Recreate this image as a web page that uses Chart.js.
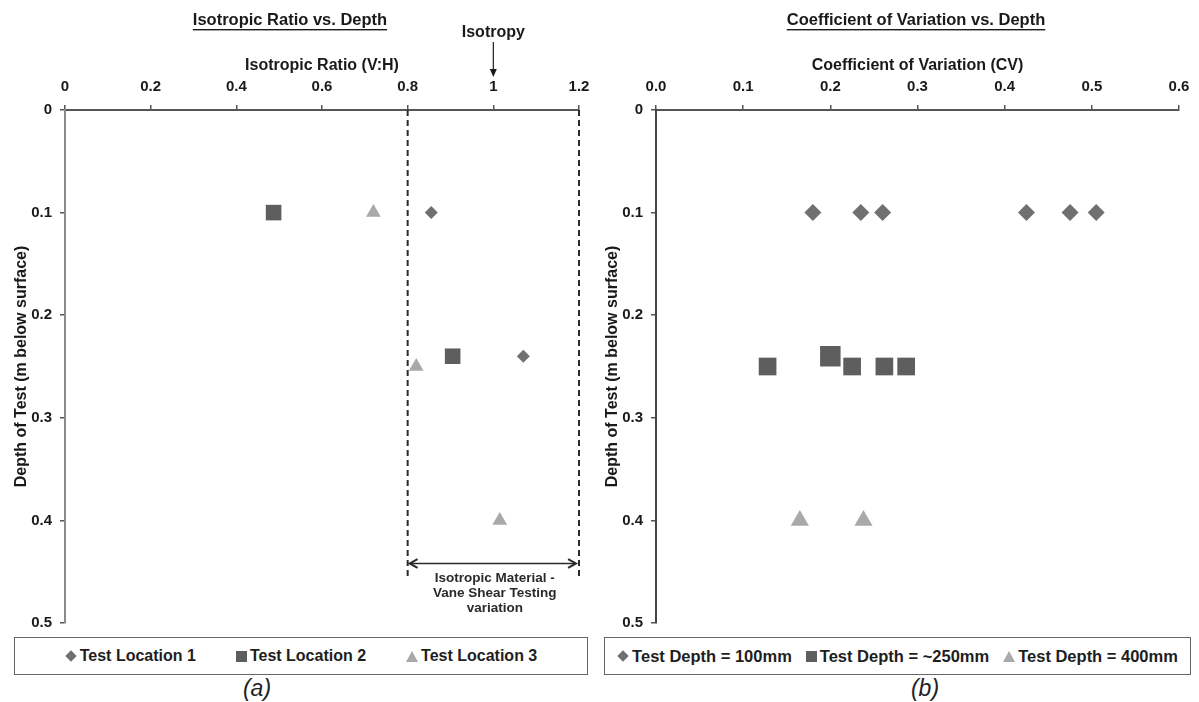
<!DOCTYPE html>
<html>
<head>
<meta charset="utf-8">
<script src="https://cdn.jsdelivr.net/npm/chart.js@4.4.1/dist/chart.umd.min.js"></script>
<style>
  body { margin: 0; background: #fff; width: 1199px; height: 702px; position: relative; overflow: hidden;
         font-family: "Liberation Sans", Arial, sans-serif; }
  .panel { position: absolute; top: 0; width: 600px; height: 640px; }
  .legend { position: absolute; box-sizing: border-box; border: 1.5px solid #666; display: flex; background: #fff;
            justify-content: center; align-items: center; font-weight: bold; color: #1e1e1e; }
  .legend .item { display: flex; align-items: center; white-space: nowrap; }
  .mk { display: inline-block; margin-right: 3px; }
  .cap { position: absolute; font-style: italic; font-size: 23px; color: #222; transform: translateX(-50%); }
</style>
</head>
<body>
<div class="panel" style="left:0"><canvas id="isoChart" width="600" height="640"></canvas></div>
<div class="panel" style="left:600px"><canvas id="cvChart" width="600" height="640"></canvas></div>
<div class="legend" id="isoLegend" style="left:14px;top:637px;width:574px;height:38px;font-size:16px"></div>
<div class="legend" id="cvLegend" style="left:604px;top:637px;width:587px;height:38px;font-size:16.5px"></div>
<div class="cap" style="left:257px;top:675px">(a)</div>
<div class="cap" style="left:925px;top:675px">(b)</div>
<script>
// ---- data ----
const depthTicks = [0, 0.1, 0.2, 0.3, 0.4, 0.5];

const isoSeries = ['Test Location 1', 'Test Location 2', 'Test Location 3'];
const loc1Ratio = [0.855, 1.07];
const loc1Depth = [0.1, 0.24];
const loc2Ratio = [0.487, 0.905];
const loc2Depth = [0.1, 0.24];
const loc3Ratio = [0.72, 0.82, 1.015];
const loc3Depth = [0.1, 0.25, 0.4];

const cvSeries = ['Test Depth = 100mm', 'Test Depth = ~250mm', 'Test Depth = 400mm'];
const cv100 = [0.18, 0.235, 0.26, 0.425, 0.475, 0.505];
const depth100 = [0.1, 0.1, 0.1, 0.1, 0.1, 0.1];
const cv250 = [0.128, 0.2, 0.225, 0.262, 0.287];
const depth250 = [0.25, 0.24, 0.25, 0.25, 0.25];
const cv400 = [0.165, 0.238];
const depth400 = [0.4, 0.4];

const FONT = '"Liberation Sans", Arial, sans-serif';
const colors = ['#707070', '#5e5e5e', '#a9a9a9'];
const shapes = ['rectRot', 'rect', 'triangle'];

const pts = (xs, ys) => xs.map((v, i) => ({ x: v, y: ys[i] }));

function scatterSet(label, data, i, radius) {
    return {
        label: label,
        data: data,
        pointStyle: shapes[i],
        pointRadius: radius,
        backgroundColor: colors[i],
        borderColor: colors[i],
        borderWidth: 0,
        showLine: false
    };
}

function axes(xMax, xTitle, xFmt, yWidth, yTitlePad, yBorder) {
    const tickFont = { family: FONT, size: 15, weight: 'bold' };
    const titleFont = { family: FONT, size: 16, weight: 'bold' };
    return {
        x: {
            type: 'linear', position: 'top', min: 0, max: xMax,
            ticks: { stepSize: xMax / 6, font: tickFont, color: '#1a1a1a', padding: 9, callback: xFmt },
            grid: { drawOnChartArea: false, tickLength: 5, color: '#555', lineWidth: 1.5 },
            border: { color: '#555', width: 2 },
            title: { display: true, text: xTitle, color: '#1a1a1a', font: titleFont, padding: { top: 4, bottom: 4 } },
            afterFit(s) { s.height = 58; }
        },
        y: {
            type: 'linear', reverse: true, min: 0, max: 0.5,
            afterBuildTicks(s) { s.ticks = depthTicks.map(v => ({ value: v })); },
            ticks: { font: tickFont, color: '#1a1a1a', padding: 8 },
            grid: { drawOnChartArea: false, tickLength: 5, color: '#555', lineWidth: 1.5 },
            border: { color: yBorder, width: 2 },
            title: { display: true, text: 'Depth of Test (m below surface)', color: '#1a1a1a', font: titleFont, padding: { top: yTitlePad, bottom: 0 } },
            afterFit(s) { s.width = yWidth; }
        }
    };
}

function underlinedTitle(ctx, text, cx, cy) {
    ctx.save();
    ctx.font = 'bold 16.5px ' + FONT;
    ctx.fillStyle = '#1a1a1a';
    ctx.textAlign = 'center';
    ctx.textBaseline = 'middle';
    ctx.fillText(text, cx, cy);
    const w = ctx.measureText(text).width;
    ctx.fillRect(cx - w / 2, cy + 9, w, 1.4);
    ctx.restore();
}

function arrowHead(ctx, x, y, dx, dy, size) {
    // open chevron pointing along (dx, dy)
    const a = Math.atan2(dy, dx);
    ctx.beginPath();
    ctx.moveTo(x - size * Math.cos(a - 0.5), y - size * Math.sin(a - 0.5));
    ctx.lineTo(x, y);
    ctx.lineTo(x - size * Math.cos(a + 0.5), y - size * Math.sin(a + 0.5));
    ctx.stroke();
}

const isoNotes = {
    id: 'isoNotes',
    beforeDatasetsDraw(chart) {
        const { ctx, scales: { x, y } } = chart;
        ctx.save();
        ctx.strokeStyle = '#2a2a2a';
        ctx.lineWidth = 2;
        ctx.setLineDash([6, 4]);
        [0.8, 1.2].forEach(v => {
            ctx.beginPath();
            ctx.moveTo(x.getPixelForValue(v), y.getPixelForValue(0));
            ctx.lineTo(x.getPixelForValue(v), y.getPixelForValue(0.458));
            ctx.stroke();
        });
        ctx.restore();
    },
    afterDraw(chart) {
        const { ctx, scales: { x, y } } = chart;
        underlinedTitle(ctx, 'Isotropic Ratio vs. Depth', 290, 20);

        // isotropy marker
        const xi = x.getPixelForValue(1);
        ctx.save();
        ctx.font = 'bold 16px ' + FONT;
        ctx.fillStyle = '#1a1a1a';
        ctx.textAlign = 'center';
        ctx.textBaseline = 'middle';
        ctx.fillText('Isotropy', xi, 33);
        ctx.strokeStyle = '#1a1a1a';
        ctx.lineWidth = 1.2;
        ctx.beginPath();
        ctx.moveTo(xi, 42);
        ctx.lineTo(xi, 73);
        ctx.stroke();
        ctx.beginPath();
        ctx.moveTo(xi - 3.5, 69);
        ctx.lineTo(xi + 3.5, 69);
        ctx.lineTo(xi, 77);
        ctx.closePath();
        ctx.fill();

        // range arrow 0.8 - 1.2
        const xa = x.getPixelForValue(0.8) + 2, xb = x.getPixelForValue(1.2) - 3;
        const ya = y.getPixelForValue(0.442);
        ctx.strokeStyle = '#2a2a2a';
        ctx.lineWidth = 1.6;
        ctx.beginPath();
        ctx.moveTo(xa, ya);
        ctx.lineTo(xb, ya);
        ctx.stroke();
        ctx.lineWidth = 2;
        arrowHead(ctx, xa, ya, -1, 0, 9);
        arrowHead(ctx, xb, ya, 1, 0, 9);

        ctx.font = 'bold 13.5px ' + FONT;
        ctx.fillStyle = '#2a2a2a';
        const cx = (xa + xb) / 2 + 2;
        ctx.fillText('Isotropic Material -', cx, ya + 15);
        ctx.fillText('Vane Shear Testing', cx, ya + 30);
        ctx.fillText('variation', cx, ya + 45);
        ctx.restore();
    }
};

const cvNotes = {
    id: 'cvNotes',
    afterDraw(chart) {
        underlinedTitle(chart.ctx, 'Coefficient of Variation vs. Depth', 316, 20);
    }
};

const common = {
    responsive: false,
    animation: false,
    events: [],
    plugins: { legend: { display: false }, tooltip: { enabled: false } }
};

const isoChart = new Chart(document.getElementById('isoChart'), {
    type: 'scatter',
    data: {
        datasets: [
            scatterSet(isoSeries[0], pts(loc1Ratio, loc1Depth), 0, 6.5),
            scatterSet(isoSeries[1], pts(loc2Ratio, loc2Depth), 1, 11),
            scatterSet(isoSeries[2], pts(loc3Ratio, loc3Depth), 2, 8.5)
        ]
    },
    options: Object.assign({}, common, {
        layout: { padding: { top: 52, left: 0, right: 21, bottom: 9 } },
        scales: axes(1.2, 'Isotropic Ratio (V:H)', v => String(Math.round(v * 10) / 10), 65, 12, '#8a8a8a')
    }),
    plugins: [isoNotes]
});

const cvChart = new Chart(document.getElementById('cvChart'), {
    type: 'scatter',
    data: {
        datasets: [
            scatterSet(cvSeries[0], pts(cv100, depth100), 0, 8.5),
            Object.assign(scatterSet(cvSeries[1], pts(cv250, depth250), 1, 12.5), { pointRadius: [12.5, 14.5, 12.5, 12.5, 12.5] }),
            scatterSet(cvSeries[2], pts(cv400, depth400), 2, 10.5)
        ]
    },
    options: Object.assign({}, common, {
        layout: { padding: { top: 52, left: 0, right: 21, bottom: 9 } },
        scales: axes(0.6, 'Coefficient of Variation (CV)', v => v.toFixed(1), 56, 3, '#444')
    }),
    plugins: [cvNotes]
});

// HTML legends built from the chart datasets
function marker(style, color) {
    const m = document.createElement('span');
    m.className = 'mk';
    if (style === 'rectRot') {
        m.style.cssText = `width:8px;height:8px;background:${color};transform:rotate(45deg);margin:0 5px 0 2px`;
    } else if (style === 'rect') {
        m.style.cssText = `width:11px;height:11px;background:${color}`;
    } else {
        m.style.cssText = `width:0;height:0;border-left:6px solid transparent;border-right:6px solid transparent;border-bottom:11px solid ${color}`;
    }
    return m;
}

function buildLegend(id, chart, gap) {
    const box = document.getElementById(id);
    chart.data.datasets.forEach((ds, i) => {
        const it = document.createElement('span');
        it.className = 'item';
        if (i > 0) it.style.marginLeft = gap + 'px';
        it.appendChild(marker(ds.pointStyle, ds.backgroundColor));
        it.appendChild(document.createTextNode(ds.label));
        box.appendChild(it);
    });
}

buildLegend('isoLegend', isoChart, 40);
buildLegend('cvLegend', cvChart, 14);
</script>
</body>
</html>
